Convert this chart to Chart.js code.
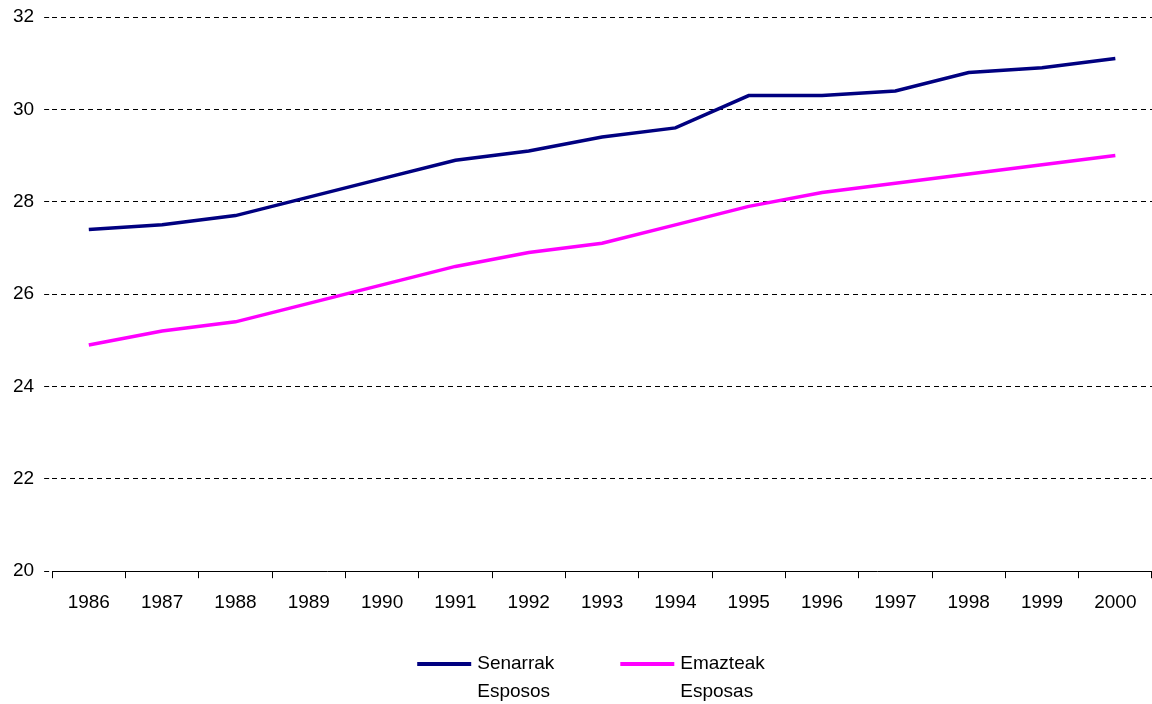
<!DOCTYPE html>
<html>
<head>
<meta charset="utf-8">
<script src="https://cdn.jsdelivr.net/npm/chart.js@4/dist/chart.umd.min.js"></script>
<style>
html,body{margin:0;padding:0;background:#fff;}
#wrap{width:1152px;height:704px;position:relative;}
</style>
</head>
<body>
<div id="wrap"><canvas id="c"></canvas></div>
<script>
const years = ['1986','1987','1988','1989','1990','1991','1992','1993','1994','1995','1996','1997','1998','1999','2000'];
const senarrak = [27.4,27.5,27.7,28.1,28.5,28.9,29.1,29.4,29.6,30.3,30.3,30.4,30.8,30.9,31.1];
const emazteak = [24.9,25.2,25.4,25.8,26.2,26.6,26.9,27.1,27.5,27.9,28.2,28.4,28.6,28.8,29.0];
const seriesLabels = ['Senarrak\nEsposos','Emazteak\nEsposas'];
const seriesColors = ['#000080','#FF00FF'];
const yMin = 20, yMax = 32, yStep = 2;

const FONT = "'Liberation Sans', Arial, sans-serif";

const legendPlugin = {
  id: 'twoLineLegend',
  afterDraw(chart) {
    const ctx = chart.ctx;
    ctx.save();
    ctx.font = '19px ' + FONT;
    ctx.textBaseline = 'middle';
    ctx.textAlign = 'left';
    const lineLen = 54, gapText = 6, gapItems = 66, lineH = 28;
    const items = chart.data.datasets.map(ds => {
      const lines = ds.label.split('\n');
      const w = Math.max(...lines.map(l => ctx.measureText(l).width));
      return {lines, w, color: ds.borderColor};
    });
    let total = 0;
    items.forEach((it, i) => { total += lineLen + gapText + it.w + (i < items.length - 1 ? gapItems : 0); });
    let x = chart.width / 2 + 15 - total / 2;
    const y0 = 664;
    items.forEach(it => {
      ctx.strokeStyle = it.color;
      ctx.lineWidth = 4;
      ctx.beginPath();
      ctx.moveTo(x, y0);
      ctx.lineTo(x + lineLen, y0);
      ctx.stroke();
      ctx.fillStyle = '#000';
      it.lines.forEach((l, j) => ctx.fillText(l, x + lineLen + gapText, y0 + j * lineH));
      x += lineLen + gapText + it.w + gapItems;
    });
    ctx.restore();
  }
};

new Chart(document.getElementById('c'), {
  type: 'line',
  data: {
    labels: years,
    datasets: [
      {label: seriesLabels[0], data: senarrak, borderColor: seriesColors[0], backgroundColor: seriesColors[0], borderWidth: 3.5, pointRadius: 0, tension: 0, fill: false},
      {label: seriesLabels[1], data: emazteak, borderColor: seriesColors[1], backgroundColor: seriesColors[1], borderWidth: 3.5, pointRadius: 0, tension: 0, fill: false}
    ]
  },
  options: {
    responsive: true,
    maintainAspectRatio: false,
    animation: false,
    layout: {padding: {left: 3, right: 0, top: 3, bottom: 77}},
    plugins: {legend: {display: false}, tooltip: {enabled: false}},
    scales: {
      x: {
        offset: true,
        grid: {offset: true, drawOnChartArea: false, drawTicks: true, tickLength: 7, color: '#000', lineWidth: 1},
        border: {display: true, color: '#000', width: 1},
        ticks: {color: '#000', font: {family: FONT, size: 19}, padding: 13, maxRotation: 0, autoSkip: false}
      },
      y: {
        min: yMin, max: yMax,
        grid: {color: '#000', lineWidth: 1, tickLength: 8, tickBorderDash: [5,4], drawTicks: true},
        border: {display: false, dash: [5,4]},
        ticks: {stepSize: yStep, color: '#000', font: {family: FONT, size: 19, lineHeight: 0.74}, padding: 10}
      }
    }
  },
  plugins: [legendPlugin]
});
</script>
</body>
</html>
